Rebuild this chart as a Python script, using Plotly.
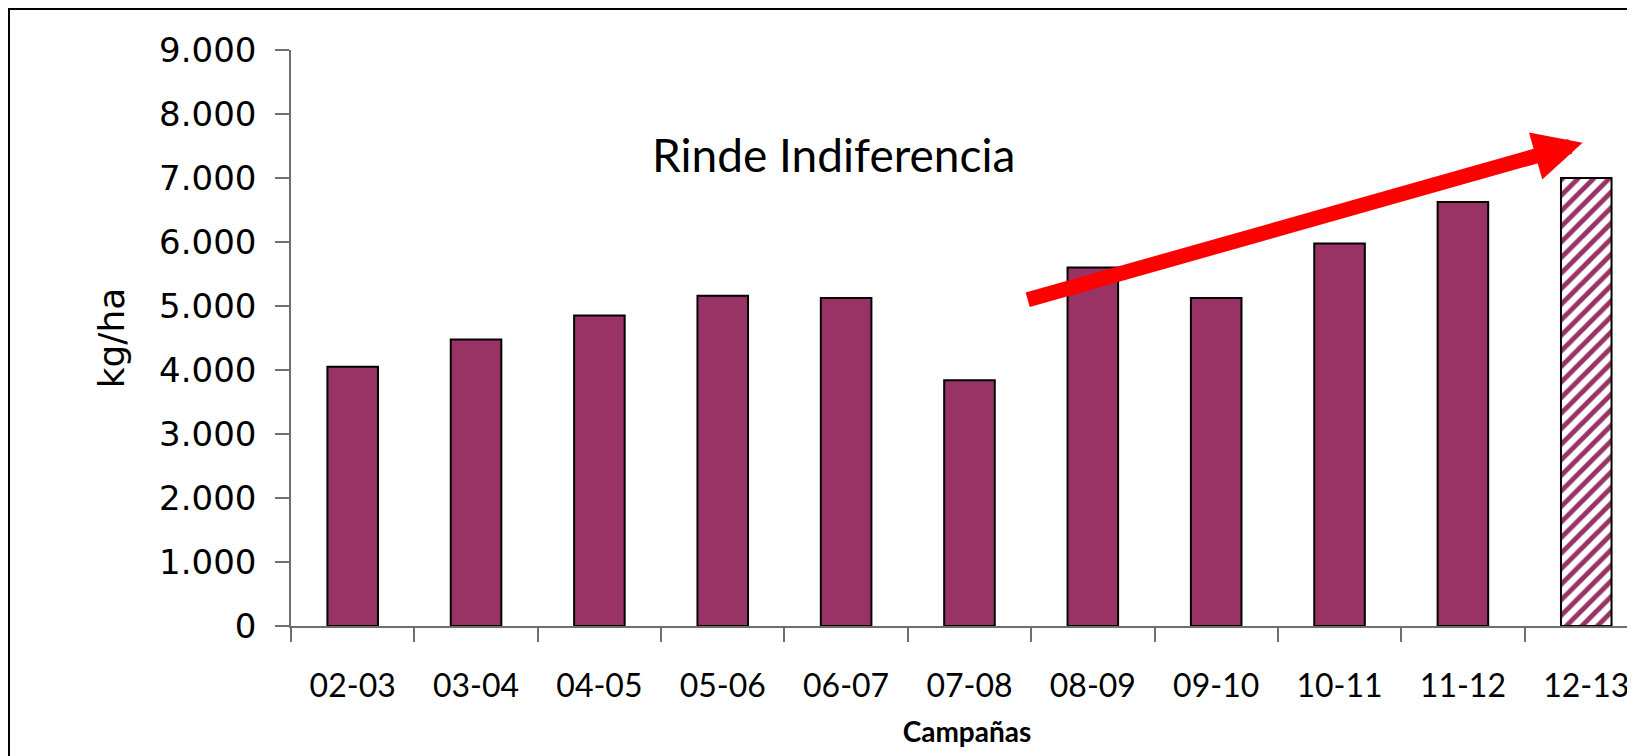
import plotly.graph_objects as go

campanas = ["02-03", "03-04", "04-05", "05-06", "06-07", "07-08",
            "08-09", "09-10", "10-11", "11-12", "12-13"]
rinde_kg_ha = [4050, 4475, 4850, 5160, 5125, 3840, 5600, 5125, 5975, 6625, 7000]
estimado = [False] * 10 + [True]

PLUM = "#993366"
AXIS_GREY = "#6e6e6e"

fig = go.Figure()
fig.add_trace(
    go.Bar(
        x=campanas,
        y=rinde_kg_ha,
        width=0.41,
        marker=dict(
            color=PLUM,
            line=dict(color="black", width=2),
            pattern=dict(
                shape=["/" if e else "" for e in estimado],
                fgcolor=[PLUM] * len(estimado),
                bgcolor=["white"] * len(estimado),
                size=11,
                solidity=0.45,
                fillmode="replace",
            ),
        ),
        hoverinfo="skip",
    )
)

# big red trend arrow
fig.add_annotation(
    x=9.97, y=7550, xref="x", yref="y",
    ax=5.46, ay=5090, axref="x", ayref="y",
    showarrow=True, arrowhead=2, arrowsize=0.65, arrowwidth=15,
    arrowcolor="#ff0000", text="", standoff=0, startstandoff=0,
)
fig.add_annotation(
    x=3.9, y=7370, xref="x", yref="y",
    text="Rinde Indiferencia", showarrow=False,
    font=dict(family="Lato", size=46, color="black"),
)

# outer chart-area border (cropped on right and bottom like the source)
fig.add_shape(
    type="rect", xref="paper", yref="paper",
    x0=-0.2086, x1=1.2, y0=-0.5, y1=1.071,
    line=dict(color="black", width=2), fillcolor="rgba(0,0,0,0)",
    layer="below",
)

fig.update_layout(
    width=1635,
    height=756,
    margin=dict(l=283, r=0, t=42, b=138),
    paper_bgcolor="white",
    plot_bgcolor="white",
    showlegend=False,
    xaxis=dict(
        type="category",
        range=[-0.5, 10.46],
        automargin=False,
        showline=True, linecolor=AXIS_GREY, linewidth=1.5,
        ticks="outside", ticklen=14, tickcolor=AXIS_GREY, tickwidth=1.5,
        tickson="boundaries",
        ticklabelstandoff=31,
        tickfont=dict(family="Lato", size=32, color="black"),
        title=dict(text="<b>Campañas</b>", standoff=19,
                   font=dict(family="Lato", size=28, color="black")),
        showgrid=False, zeroline=False,
    ),
    yaxis=dict(
        range=[0, 9000],
        automargin=False,
        tickvals=[0, 1000, 2000, 3000, 4000, 5000, 6000, 7000, 8000, 9000],
        ticktext=["0", "1.000", "2.000", "3.000", "4.000", "5.000",
                  "6.000", "7.000", "8.000", "9.000"],
        showline=True, linecolor=AXIS_GREY, linewidth=1.5,
        ticks="outside", ticklen=14, tickcolor=AXIS_GREY, tickwidth=1.5,
        ticklabelstandoff=12,
        tickfont=dict(family="DejaVu Sans", size=34, color="black"),
        title=dict(text="kg/ha", standoff=24,
                   font=dict(family="DejaVu Sans", size=36, color="black")),
        showgrid=False, zeroline=False,
    ),
)

fig.write_html("out.html")
